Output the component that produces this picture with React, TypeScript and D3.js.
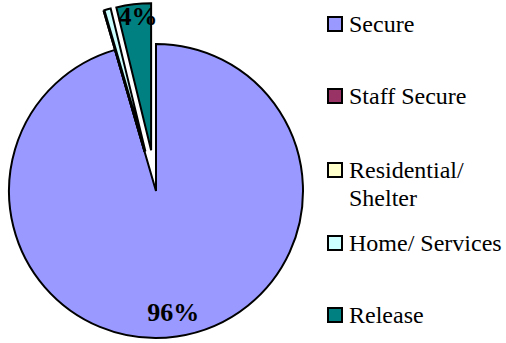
import React from "react";
import * as d3 from "d3";

const categories = ["Secure", "Staff Secure", "Residential/\nShelter", "Home/ Services", "Release"];
const values = [95.5, 0, 0, 0.7, 3.8];
const colors = ["#9999FF", "#993366", "#FFFFCC", "#CCFFFF", "#008080"];
const explode = [0, 41, 41, 41, 41];
const legendBaselines = [32, 104, 178, 251, 323];

const W = 506, H = 343;
const cx = 156, cy = 191, R = 147;

export default function App() {
  const data = categories.map((c, i) => ({ name: c, value: values[i], color: colors[i], ex: explode[i] }));
  const total = d3.sum(values);
  const pie = d3.pie<any>().sort(null).value((d: any) => d.value).startAngle(0).endAngle(2 * Math.PI);
  const arcs = pie(data);
  const arc = d3.arc<any>().innerRadius(0).outerRadius(R);
  const font = "Liberation Serif";

  return (
    <svg width={W} height={H} style={{ position: "absolute", left: 0, top: 0, background: "#fff" }}>
      {arcs.map((a, i) => {
        const mid = (a.startAngle + a.endAngle) / 2;
        const dx = Math.sin(mid) * a.data.ex;
        const dy = -Math.cos(mid) * a.data.ex;
        return (
          <g key={i} transform={`translate(${cx + dx},${cy + dy})`}>
            <path d={arc(a) || ""} fill={a.data.color} stroke="#000" strokeWidth={2} strokeLinejoin="miter" />
          </g>
        );
      })}
      {arcs.map((a, i) => {
        const pct = Math.round((a.data.value / total) * 100);
        if (pct < 2) return null;
        const mid = (a.startAngle + a.endAngle) / 2;
        const ex = a.data.ex;
        const rr = ex > 0 ? R * 0.92 : R * 0.83;
        const x = cx + Math.sin(mid) * (ex + rr) + (ex > 0 ? 3 : 0);
        const y = cy - Math.cos(mid) * (ex + rr);
        return (
          <text key={"l" + i} x={x} y={y + 9} textAnchor="middle"
            style={{ fontFamily: font, fontWeight: "bold", fontSize: "26px" }} fill="#000">
            {pct}%
          </text>
        );
      })}
      {data.map((d, i) => {
        const lines = d.name.split("\n");
        const by = legendBaselines[i];
        return (
          <g key={"lg" + i}>
            <rect x={328} y={by - 15} width={14} height={14} fill={d.color} stroke="#000" strokeWidth={2} />
            <text x={349} y={by} style={{ fontFamily: font, fontSize: "24px" }} fill="#000">
              {lines.map((l, j) => (
                <tspan key={j} x={349} dy={j === 0 ? 0 : 28}>{l}</tspan>
              ))}
            </text>
          </g>
        );
      })}
    </svg>
  );
}
